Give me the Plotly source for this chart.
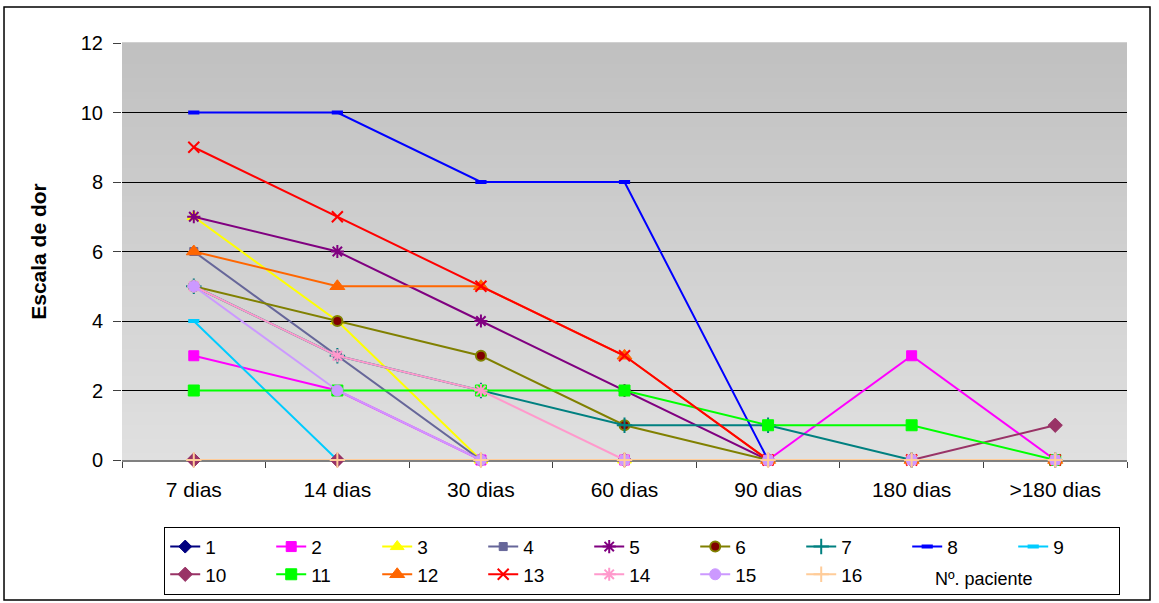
import plotly.graph_objects as go

# Time points after treatment
periods = ["7 dias", "14 dias", "30 dias", "60 dias", "90 dias", "180 dias", ">180 dias"]

# Pain scale per patient
p1 = [0, 0, 0, 0, 0, 0, 0]
p2 = [3, 2, 0, 0, 0, 3, 0]
p3 = [7, 4, 0, 0, 0, 0, 0]
p4 = [6, 3, 0, 0, 0, 0, 0]
p5 = [7, 6, 4, 2, 0, 0, 0]
p6 = [5, 4, 3, 1, 0, 0, 0]
p7 = [5, 3, 2, 1, 1, 0, 0]
p8 = [10, 10, 8, 8, 0, 0, 0]
p9 = [4, 0, 0, 0, 0, 0, 0]
p10 = [0, 0, 0, 0, 0, 0, 1]
p11 = [2, 2, 2, 2, 1, 1, 0]
p12 = [6, 5, 5, 3, 0, 0, 0]
p13 = [9, 7, 5, 3, 0, 0, 0]
p14 = [5, 3, 2, 0, 0, 0, 0]
p15 = [5, 2, 0, 0, 0, 0, 0]
p16 = [0, 0, 0, 0, 0, 0, 0]

patients = [p1, p2, p3, p4, p5, p6, p7, p8, p9, p10, p11, p12, p13, p14, p15, p16]
names = [str(i) for i in range(1, 17)]

# line colour, marker symbol, marker fill, marker outline, marker size, outline width
styles = [
    ("#000080", "diamond", "#000080", "#000080", 10, 1),
    ("#FF00FF", "square", "#FF00FF", "#FF00FF", 10, 1),
    ("#FFFF00", "triangle-up", "#FFFF00", "#FFFF00", 12, 1),
    ("#666699", "square", "#666699", "#666699", 8, 1),
    ("#800080", "asterisk-open", "#800080", "#800080", 11, 2),
    ("#808000", "circle", "#800000", "#808000", 10, 2),
    ("#008080", "cross-thin-open", "#008080", "#008080", 11, 2),
    ("#0000FF", "line-ew-open", "#0000FF", "#0000FF", 8, 4),
    ("#00CCFF", "line-ew-open", "#00CCFF", "#00CCFF", 8, 4),
    ("#993366", "diamond", "#993366", "#993366", 11, 1),
    ("#00FF00", "square", "#00FF00", "#00FF00", 11, 1),
    ("#FF6600", "triangle-up", "#FF6600", "#FF6600", 13, 1),
    ("#FF0000", "x-thin-open", "#FF0000", "#FF0000", 11, 2),
    ("#FF99CC", "asterisk-open", "#FF99CC", "#FF99CC", 11, 2),
    ("#CC99FF", "circle", "#CC99FF", "#CC99FF", 11, 1),
    ("#FFCC99", "cross-thin-open", "#FFCC99", "#FFCC99", 11, 2),
]

FONT = "Liberation Sans, Arial, sans-serif"

fig = go.Figure()
for name, vals, (lc, sym, fill, edge, size, lw) in zip(names, patients, styles):
    fig.add_trace(go.Scatter(
        x=periods, y=vals, name=name, mode="lines+markers",
        line=dict(color=lc, width=2),
        marker=dict(symbol=sym, size=size, color=fill,
                    line=dict(color=edge, width=lw)),
        cliponaxis=False,
    ))

# grey vertical gradient behind the plot area
shapes = []
n_strips = 60
top_c, bot_c = 192, 224
for i in range(n_strips):
    t = (i + 0.5) / n_strips
    g = round(bot_c + (top_c - bot_c) * t)
    shapes.append(dict(type="rect", xref="x domain", yref="y domain",
                       x0=0, x1=1, y0=i / n_strips, y1=(i + 1) / n_strips + 0.002,
                       fillcolor=f"rgb({g},{g},{g})", line=dict(width=0),
                       layer="below"))

# outer frame around the whole chart
shapes.append(dict(type="rect", xref="paper", yref="paper",
                   x0=-0.1174, x1=1.0229, y0=-0.3357, y1=1.0863,
                   line=dict(color="black", width=1.5), fillcolor="rgba(0,0,0,0)"))

fig.update_layout(
    width=1159, height=603,
    margin=dict(l=122, r=32, t=43, b=143, autoexpand=False),
    paper_bgcolor="white",
    plot_bgcolor="#d0d0d0",
    font=dict(family=FONT, size=20, color="black"),
    shapes=shapes,
    showlegend=True,
    legend=dict(
        orientation="h", x=0.042, y=-0.16, xanchor="left", yanchor="top",
        bordercolor="black", borderwidth=1, bgcolor="white",
        font=dict(family=FONT, size=19, color="black"),
        entrywidth=61, entrywidthmode="pixels", traceorder="normal",
    ),
    annotations=[dict(text="Nº. paciente", xref="paper", yref="paper",
                      x=0.807, y=-0.285, xanchor="left", yanchor="middle",
                      showarrow=False, font=dict(family=FONT, size=18, color="black"))],
)

fig.update_xaxes(
    type="category", range=[-0.5, 6.5],
    showgrid=False, showline=True, linecolor="#808080", linewidth=1.5,
    ticks="outside", tickson="boundaries", ticklen=6, tickcolor="#404040",
    tickfont=dict(family=FONT, size=21), ticklabelstandoff=10,
    zeroline=False, layer="below traces",
)
fig.update_yaxes(
    range=[0, 12], dtick=2, tick0=0,
    showgrid=True, gridcolor="black", gridwidth=1,
    showline=False, zeroline=False, layer="below traces",
    ticks="outside", ticklen=8, tickcolor="#404040",
    tickfont=dict(family=FONT, size=20), ticklabelstandoff=6,
    title=dict(text="<b>Escala de dor</b>", font=dict(family=FONT, size=21), standoff=28),
)

fig.write_html("out.html")
